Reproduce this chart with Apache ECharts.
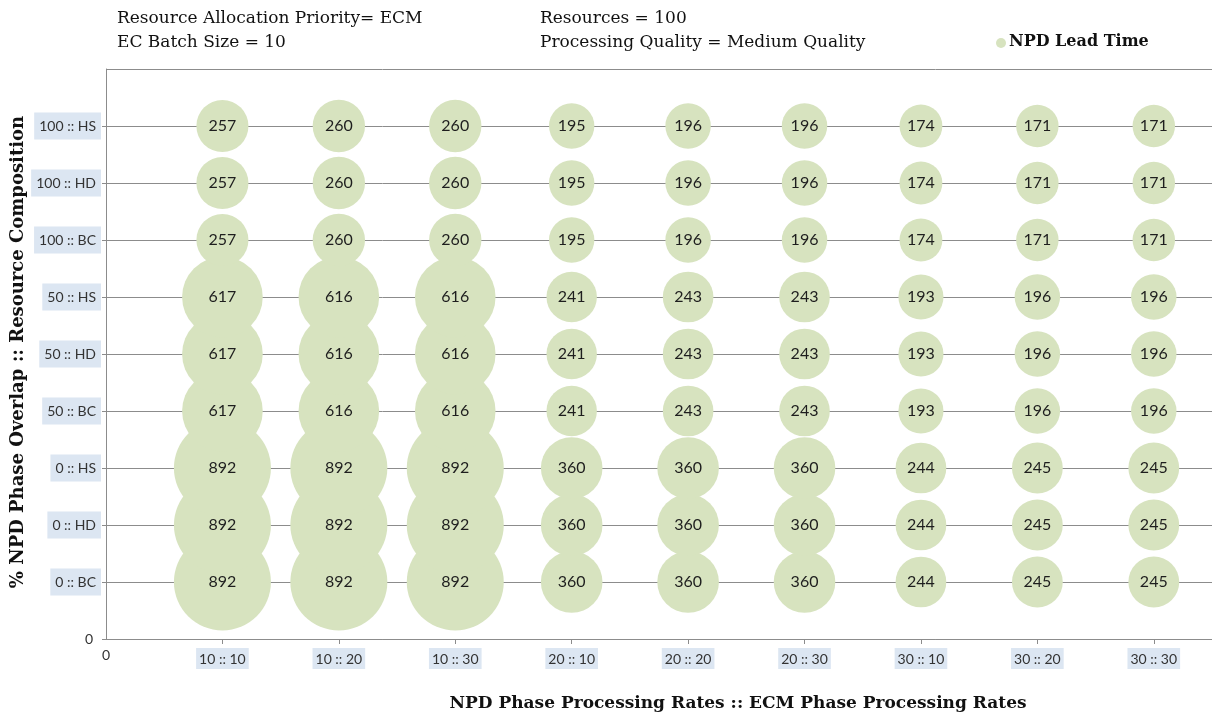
<!DOCTYPE html>
<html>
<head>
<meta charset="utf-8">
<script src="https://cdn.jsdelivr.net/npm/echarts@6/dist/echarts.min.js"></script>
<style>html,body{margin:0;padding:0;background:#fff;}#c{width:1212px;height:714px;}</style>
</head>
<body>
<div id="c"></div>
<script>
// X categories: NPD Phase Processing Rates :: ECM Phase Processing Rates
const xCategories = ['10 :: 10','10 :: 20','10 :: 30','20 :: 10','20 :: 20','20 :: 30','30 :: 10','30 :: 20','30 :: 30'];
// Y categories (bottom to top): % NPD Phase Overlap :: Resource Composition
const yCategories = ['0 :: BC','0 :: HD','0 :: HS','50 :: BC','50 :: HD','50 :: HS','100 :: BC','100 :: HD','100 :: HS'];

// NPD Lead Time values, one array per y category (across x categories)
const lead_0_BC   = [892,892,892,360,360,360,244,245,245];
const lead_0_HD   = [892,892,892,360,360,360,244,245,245];
const lead_0_HS   = [892,892,892,360,360,360,244,245,245];
const lead_50_BC  = [617,616,616,241,243,243,193,196,196];
const lead_50_HD  = [617,616,616,241,243,243,193,196,196];
const lead_50_HS  = [617,616,616,241,243,243,193,196,196];
const lead_100_BC = [257,260,260,195,196,196,174,171,171];
const lead_100_HD = [257,260,260,195,196,196,174,171,171];
const lead_100_HS = [257,260,260,195,196,196,174,171,171];

const rows = [lead_0_BC, lead_0_HD, lead_0_HS, lead_50_BC, lead_50_HD, lead_50_HS, lead_100_BC, lead_100_HD, lead_100_HS];

const data = [];
rows.forEach((row, yi) => {
  row.forEach((v, xi) => data.push([xi + 1, yi + 1, v]));
});
const maxVal = 892;
const maxDiam = 97;

const serif = '"DejaVu Serif", "Liberation Serif", serif';
const sans = 'Lato, "Open Sans", sans-serif';
const boxColor = '#dce6f2';
const lineColor = '#8c8c8c';

const chart = echarts.init(document.getElementById('c'));
chart.setOption({
  animation: false,
  backgroundColor: '#fff',
  grid: { left: 106, right: 0, top: 69, bottom: 75 },
  xAxis: {
    type: 'value', min: 0, max: 9.5, interval: 1,
    axisLine: { show: true, lineStyle: { color: lineColor, width: 1 } },
    axisTick: { show: true, length: 5, lineStyle: { color: lineColor }, customValues: [1,2,3,4,5,6,7,8,9] },
    splitLine: { show: false },
    axisLabel: {
      margin: 9,
      customValues: [0,1,2,3,4,5,6,7,8,9],
      formatter: v => v === 0 ? '{z|0}' : '{b|' + xCategories[v - 1] + '}',
      rich: {
        z: { fontFamily: sans, fontSize: 14, color: '#333', padding: [0, 0, 0, 0] },
        b: { fontFamily: sans, fontSize: 14, color: '#333', backgroundColor: boxColor, padding: [4, 3, 3, 3] }
      }
    }
  },
  yAxis: {
    type: 'value', min: 0, max: 10, interval: 1,
    axisLine: { show: true, lineStyle: { color: lineColor, width: 1 } },
    axisTick: { show: true, length: 4, lineStyle: { color: lineColor }, customValues: [0,1,2,3,4,5,6,7,8,9] },
    splitLine: { show: true, lineStyle: { color: lineColor, width: 1 } },
    axisLabel: {
      margin: 5,
      customValues: [0,1,2,3,4,5,6,7,8,9],
      formatter: v => v === 0 ? '{z|0}' : '{b|' + yCategories[v - 1] + '}',
      rich: {
        z: { fontFamily: sans, fontSize: 14, color: '#333', padding: [0, 8, 0, 0] },
        b: { fontFamily: sans, fontSize: 14, color: '#333', backgroundColor: boxColor, padding: [7, 5, 6, 5] }
      }
    }
  },
  series: [{
    name: 'NPD Lead Time',
    type: 'scatter',
    data: data,
    symbol: 'circle',
    symbolSize: d => maxDiam * Math.sqrt(d[2] / maxVal),
    itemStyle: { color: '#d7e3bf', opacity: 1 },
    label: {
      show: true, position: 'inside',
      formatter: p => String(p.value[2]),
      fontFamily: sans, fontSize: 16, color: '#1e1e1e'
    },
    markLine: {
      silent: true, symbol: 'none', label: { show: false },
      lineStyle: { color: lineColor, width: 1, type: 'solid' },
      data: [{ yAxis: 10 }]
    },
    emphasis: { disabled: true }
  }],
  graphic: [
    { type: 'text', left: 117, top: 10, style: { text: 'Resource Allocation Priority= ECM', font: '17px ' + serif, fill: '#111' } },
    { type: 'text', left: 117, top: 34, style: { text: 'EC Batch Size = 10', font: '17px ' + serif, fill: '#111' } },
    { type: 'text', left: 540, top: 10, style: { text: 'Resources = 100', font: '17px ' + serif, fill: '#111' } },
    { type: 'text', left: 540, top: 34, style: { text: 'Processing Quality = Medium Quality', font: '17px ' + serif, fill: '#111' } },
    { type: 'circle', shape: { cx: 1001, cy: 43, r: 5 }, style: { fill: '#d7e3bf' } },
    { type: 'text', left: 1009, top: 34, style: { text: 'NPD Lead Time', font: 'bold 16px ' + serif, fill: '#111' } },
    { type: 'text', x: 738, y: 704, style: { text: 'NPD Phase Processing Rates :: ECM Phase Processing Rates', font: 'bold 17px ' + serif, fill: '#111', textAlign: 'center', textVerticalAlign: 'middle' } },
    { type: 'text', x: 18, y: 352, rotation: Math.PI / 2, style: { text: '% NPD Phase Overlap :: Resource Composition', font: 'bold 18px ' + serif, fill: '#111', textAlign: 'center', textVerticalAlign: 'middle' } }
  ]
});
</script>
</body>
</html>
